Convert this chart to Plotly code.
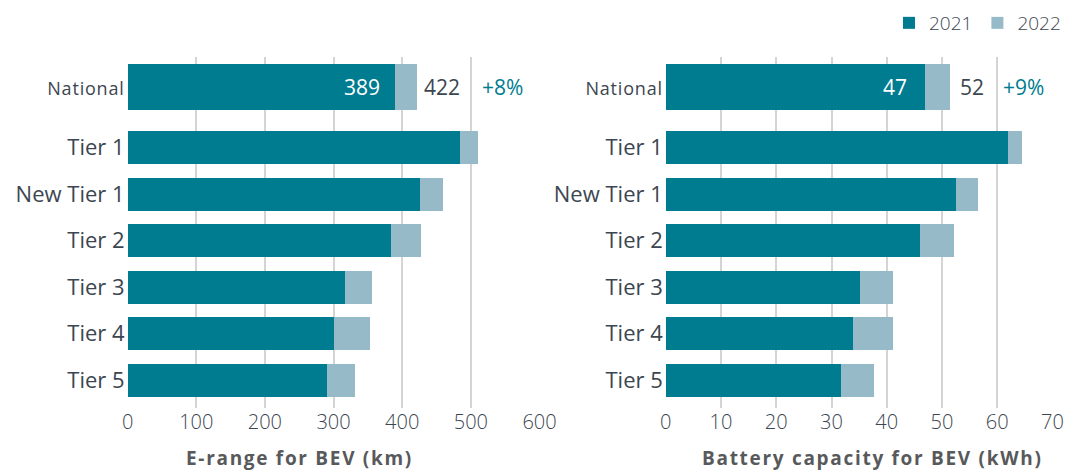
import plotly.graph_objects as go

categories = ["Tier 5", "Tier 4", "Tier 3", "Tier 2", "New Tier 1", "Tier 1", "National"]
range_2021 = [290, 301, 316, 384, 426, 484, 389]
range_2022 = [331, 353, 356, 428, 460, 510, 422]
batt_2021 = [31.8, 33.8, 35.1, 46.0, 52.6, 61.9, 47.0]
batt_2022 = [37.7, 41.1, 41.1, 52.1, 56.5, 64.4, 51.5]
range_ticks = [0, 100, 200, 300, 400, 500, 600]
batt_ticks = [0, 10, 20, 30, 40, 50, 60, 70]
national_labels_range = ["389", "422", "+8%"]
national_labels_batt = ["47", "52", "+9%"]
years = ["2021", "2022"]

C21 = "#007C91"
C22 = "#97BAC9"
TXT = "#3c4650"
FONT = "'Open Sans', Lato, sans-serif"

# layout positions (rows), national set apart with a gap
ypos = [0, 1, 2, 3, 4, 5, 6.3]
widths = [0.71, 0.71, 0.71, 0.71, 0.71, 0.71, 0.98]

ticktext = []
for c in categories:
    if c == "National":
        ticktext.append("<span style='font-size:18px;letter-spacing:0.8px'>" + c + "</span>")
    else:
        ticktext.append(c)

fig = go.Figure()

for (v21, v22, xa, ya, show) in [
    (range_2021, range_2022, "x", "y", True),
    (batt_2021, batt_2022, "x2", "y2", False),
]:
    fig.add_trace(go.Bar(x=v22, y=ypos, width=widths, orientation="h", marker=dict(color=C22, line=dict(width=0)),
                         name=years[1], xaxis=xa, yaxis=ya, showlegend=show, legendrank=2, hoverinfo="skip"))
    fig.add_trace(go.Bar(x=v21, y=ypos, width=widths, orientation="h", marker=dict(color=C21, line=dict(width=0)),
                         name=years[0], xaxis=xa, yaxis=ya, showlegend=show, legendrank=1, hoverinfo="skip"))

ann = []
for (v21, v22, labels, xr, yr, s1, s2, s3) in [
    (range_2021, range_2022, national_labels_range, "x", "y", -13, 5, 63),
    (batt_2021, batt_2022, national_labels_batt, "x2", "y2", -16, 8, 51),
]:
    yv = ypos[-1]
    ann.append(dict(x=v21[-1], y=yv, xref=xr, yref=yr, text=labels[0], showarrow=False, xanchor="right",
                    xshift=s1, font=dict(family=FONT, size=21, color="white")))
    ann.append(dict(x=v22[-1], y=yv, xref=xr, yref=yr, text=labels[1], showarrow=False, xanchor="left",
                    xshift=s2, font=dict(family=FONT, size=21, color=TXT)))
    ann.append(dict(x=v22[-1], y=yv, xref=xr, yref=yr, text=labels[2], showarrow=False, xanchor="left",
                    xshift=s3, font=dict(family=FONT, size=21, color=C21)))

TSTYLE = "<span style='letter-spacing:1.7px'><b>{}</b></span>"
ann.append(dict(x=299 / 1066, y=1 - 458 / 472, xref="paper", yref="paper", text=TSTYLE.format("E-range for BEV (km)"),
                showarrow=False, xanchor="center", yanchor="middle", font=dict(family=FONT, size=19, color="#58595b")))
ann.append(dict(x=872 / 1066, y=1 - 458 / 472, xref="paper", yref="paper",
                text=TSTYLE.format("Battery capacity for BEV (kWh)"),
                showarrow=False, xanchor="center", yanchor="middle", font=dict(family=FONT, size=19, color="#58595b")))

xcommon = dict(showgrid=True, gridcolor="#d4d4d4", gridwidth=2, zeroline=False, showline=False,
               ticks="", tickfont=dict(family=FONT, size=20, color=TXT, weight=300), fixedrange=True,
               automargin=False)
ycommon = dict(range=[-0.6, 6.95], tickvals=ypos, ticktext=ticktext, showgrid=False, zeroline=False,
               showline=False, ticks="", tickfont=dict(family=FONT, size=22, color=TXT), automargin=False,
               ticklabelstandoff=2, fixedrange=True)

fig.update_layout(
    width=1066, height=472, autosize=False,
    margin=dict(l=0, r=0, t=0, b=0, autoexpand=False),
    paper_bgcolor="white", plot_bgcolor="white",
    barmode="overlay", bargap=0,
    font=dict(family=FONT, color=TXT),
    xaxis=dict(domain=[127.6 / 1066, 539.5 / 1066], range=[0, 600], tickvals=range_ticks, anchor="y", **xcommon),
    xaxis2=dict(domain=[665.8 / 1066, 1052.5 / 1066], range=[0, 70], tickvals=batt_ticks, anchor="y2", **xcommon),
    yaxis=dict(domain=[1 - 408 / 472, 1 - 57 / 472], anchor="x", **ycommon),
    yaxis2=dict(domain=[1 - 408 / 472, 1 - 57 / 472], anchor="x2", **ycommon),
    legend=dict(orientation="h", x=1.0, xanchor="right", y=1 - 23 / 472, yanchor="middle",
                font=dict(family=FONT, size=19, color=TXT, weight=300), itemwidth=30,
                traceorder="normal", bgcolor="rgba(0,0,0,0)"),
    annotations=ann,
)

post = ("document.body.style.margin='0';document.body.style.padding='0';"
        "document.body.style.overflow='hidden';"
        "var gd=document.getElementById('{plot_id}');"
        "Plotly.relayout(gd,{width:1066,height:472});")

fig.write_html("out.html", post_script=post, config={"displayModeBar": False, "staticPlot": True})
